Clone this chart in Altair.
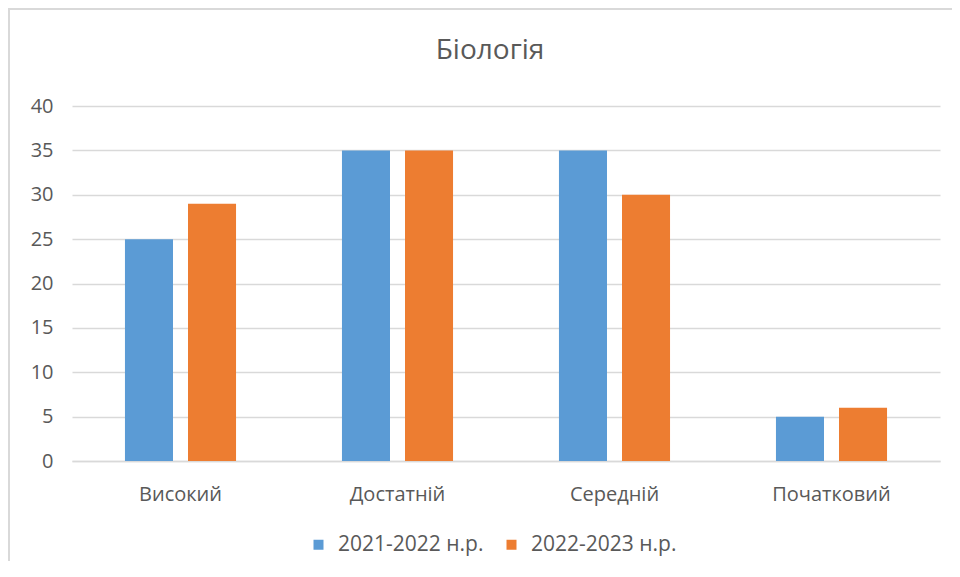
import altair as alt
import pandas as pd

title_text = "Біологія"
categories = ["Високий", "Достатній", "Середній", "Початковий"]
series = ["2021-2022 н.р.", "2022-2023 н.р."]
values_2021 = [25, 35, 35, 5]
values_2022 = [29, 35, 30, 6]
colors = ["#5B9BD5", "#ED7D31"]

rows = []
for c, a, b in zip(categories, values_2021, values_2022):
    rows.append({"cat": c, "series": series[0], "value": a})
    rows.append({"cat": c, "series": series[1], "value": b})
df = pd.DataFrame(rows)

FONT = "Open Sans"
GREY = "#595959"
FRAME = "#d9d9d9"

bars = alt.Chart(df).mark_bar().encode(
    x=alt.X("cat:N", sort=categories, title=None,
            scale=alt.Scale(paddingInner=0, paddingOuter=0),
            axis=alt.Axis(labelAngle=0, ticks=False, domainColor="#d9d9d9",
                          domainWidth=1.5, labelFontSize=20, labelColor=GREY,
                          labelFont=FONT, labelPadding=23, grid=False)),
    xOffset=alt.XOffset("series:N", sort=series,
                        scale=alt.Scale(paddingInner=0.238, paddingOuter=0.84)),
    y=alt.Y("value:Q", title=None,
            scale=alt.Scale(domain=[0, 40]),
            axis=alt.Axis(values=[0, 5, 10, 15, 20, 25, 30, 35, 40], ticks=False,
                          domain=False, gridColor="#d9d9d9", gridWidth=1.5,
                          labelFontSize=20, labelColor=GREY, labelFont=FONT,
                          labelPadding=19)),
    color=alt.Color("series:N", sort=series,
                    scale=alt.Scale(domain=series, range=colors),
                    legend=alt.Legend(title=None, orient="none", direction="horizontal",
                                      legendX=236, legendY=428, symbolType="square",
                                      symbolSize=100, symbolStrokeWidth=0,
                                      labelFontSize=21, labelColor=GREY, labelFont=FONT,
                                      labelOffset=9, columnPadding=17)),
)

one = pd.DataFrame({"k": [0]})
frame_left = alt.Chart(one).mark_rule(color=FRAME, strokeWidth=2, clip=False).encode(
    x=alt.value(-63), y=alt.value(-97), y2=alt.value(600)
)
frame_top = alt.Chart(one).mark_rule(color=FRAME, strokeWidth=2, clip=False).encode(
    x=alt.value(-64), x2=alt.value(920), y=alt.value(-97)
)

title_df = pd.DataFrame({"t": [title_text]})
title = alt.Chart(title_df).mark_text(font=FONT, fontSize=28, color=GREY,
                                      baseline="alphabetic", align="center").encode(
    text="t:N", x=alt.value(418), y=alt.value(-47)
)

chart = alt.layer(frame_left, frame_top, title, bars).properties(
    width=868, height=355,
    autosize=alt.AutoSizeParams(type="none"),
    padding={"left": 64, "top": 98, "right": 12, "bottom": 100},
).configure_view(stroke=None)

chart.save("out.html", embed_options={"renderer": "svg", "actions": False})
